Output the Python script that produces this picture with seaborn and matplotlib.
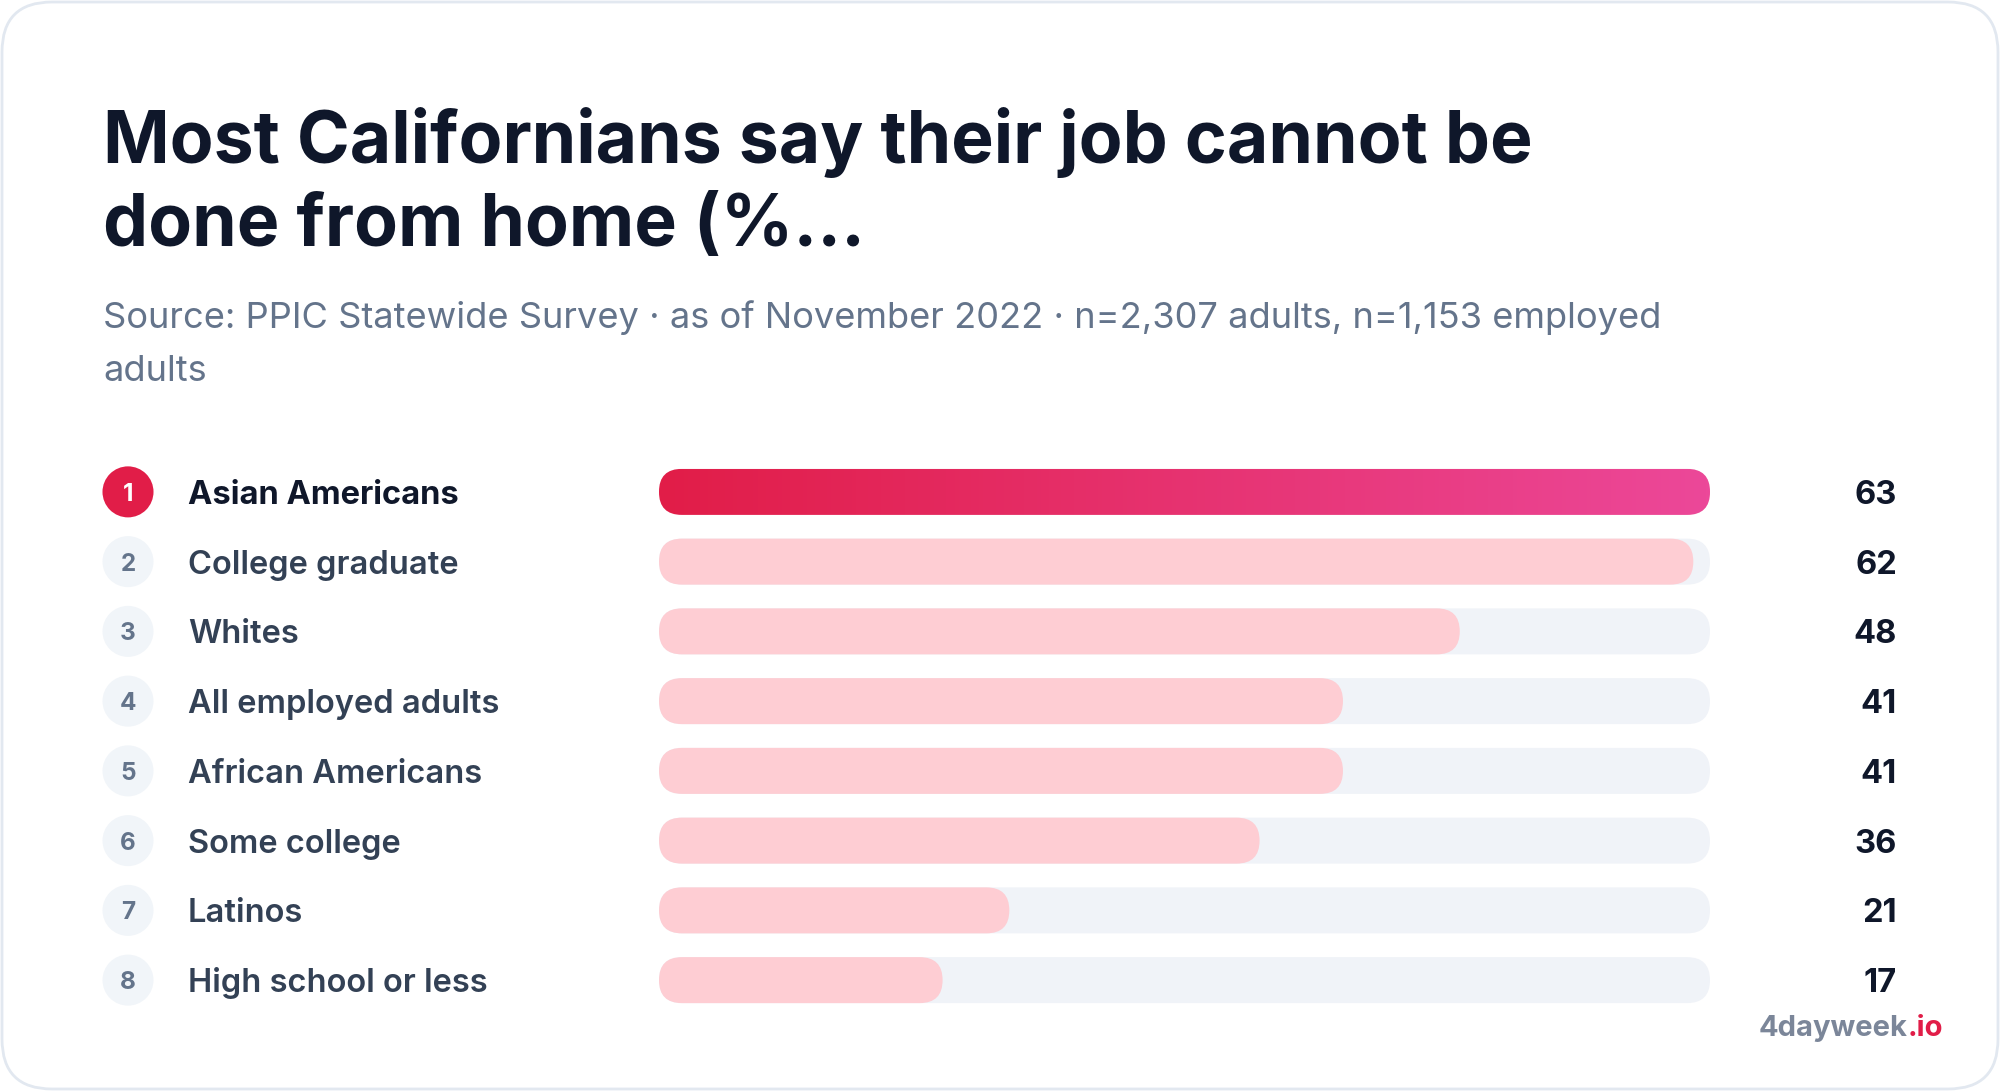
"""Ranked bar chart: share of Californians whose job cannot be done from home."""
import numpy as np
import seaborn as sns
from matplotlib import pyplot as plt
from matplotlib import transforms
from matplotlib.colors import LinearSegmentedColormap, to_rgb
from matplotlib.patches import FancyBboxPatch

# Data
categories = [
    "Asian Americans",
    "College graduate",
    "Whites",
    "All employed adults",
    "African Americans",
    "Some college",
    "Latinos",
    "High school or less",
]
values = [63, 62, 48, 41, 41, 36, 21, 17]
ranks = list(range(1, len(categories) + 1))

TITLE = "Most Californians say their job cannot be\ndone from home (%\u2026"
SUBTITLE = ("Source: PPIC Statewide Survey \u00b7 as of November 2022 \u00b7 "
            "n=2,307 adults, n=1,153 employed\nadults")

# Colours
INK = "#0f172a"
LABEL = "#334155"
MUTED = "#64748b"
TRACK = "#f0f3f8"
BAR = "#fecdd3"
ACCENT = "#e11d48"
ACCENT_END = "#ec4899"
BORDER = "#e2e8f0"

W, H, DPI = 2000, 1091, 100

sns.set_theme(style="white")
plt.rcParams["font.family"] = ["Inter", "DejaVu Sans"]

fig = plt.figure(figsize=(W / DPI, H / DPI), dpi=DPI)
fig.patch.set_facecolor("white")

# Background axes in pixel units (origin top-left)
bg = fig.add_axes([0, 0, 1, 1], zorder=-1)
bg.set_xlim(0, W)
bg.set_ylim(H, 0)
bg.axis("off")

card = FancyBboxPatch((2, 2), W - 4, H - 4,
                      boxstyle="round,pad=0,rounding_size=50",
                      fc="white", ec=BORDER, lw=2)
bg.add_patch(card)

# soft pink glow in the top-left corner
yy, xx = np.mgrid[0:H, 0:W]
dist = np.sqrt((xx / 900.0) ** 2 + (yy / 520.0) ** 2)
glow = np.zeros((H, W, 4))
glow[..., :3] = to_rgb("#fde4e6")
glow[..., 3] = np.clip(1 - dist, 0, 1) ** 1.4 * 0.75
im_bg = bg.imshow(glow, extent=(0, W, H, 0), aspect="auto", zorder=0.5)
im_bg.set_clip_path(card)

# Title and subtitle
for line, base in zip(TITLE.split("\n"), (163, 246)):
    bg.text(103, base, line, fontsize=51.5, fontweight="bold", color=INK,
            va="baseline", ha="left")
for line, base in zip(SUBTITLE.split("\n"), (328, 381)):
    bg.text(103, base, line, fontsize=26.1, color=MUTED,
            va="baseline", ha="left")

# Bar axes
ax = fig.add_axes([659 / W, 76 / H, 1051 / W, 558 / H])
bar_h = 46 / 69.75
vmax = max(values)
sns.barplot(x=[vmax] * len(values), y=categories, color=TRACK,
            width=bar_h, orient="h", ax=ax, saturation=1)
sns.barplot(x=values, y=categories, color=BAR,
            width=bar_h, orient="h", ax=ax, saturation=1)
ax.set_xlim(0, vmax)
ax.set_ylim(len(values) - 0.5, -0.5)
ax.axis("off")

# Turn the seaborn bars into rounded pills
bbox = ax.get_window_extent()
px_x = bbox.width / vmax
px_y = bbox.height / len(values)
aspect = px_x / px_y
pills = []
for patch in list(ax.patches):
    x, y = patch.get_x(), patch.get_y()
    w, h = patch.get_width(), patch.get_height()
    fc = patch.get_facecolor()
    patch.remove()
    r = h / aspect / 2
    pill = FancyBboxPatch((x, y), w, h,
                          boxstyle=f"round,pad=0,rounding_size={r}",
                          mutation_aspect=aspect, fc=fc, ec="none")
    ax.add_patch(pill)
    pills.append(pill)

# Gradient on the top-ranked bar
top = pills[len(values)]
cmap = LinearSegmentedColormap.from_list("accent", [ACCENT, ACCENT_END])
grad = ax.imshow(np.linspace(0, 1, 256).reshape(1, -1), cmap=cmap,
                 extent=(0, values[0], top.get_y() + top.get_height(),
                         top.get_y()),
                 aspect="auto", zorder=3)
grad.set_clip_path(top)
ax.set_xlim(0, vmax)
ax.set_ylim(len(values) - 0.5, -0.5)

# Badges, labels, values placed on the bar rows
row = transforms.blended_transform_factory(bg.transData, ax.transData)
lift = transforms.ScaledTranslation(0, -12 / DPI, fig.dpi_scale_trans)
badge_cols = [ACCENT] + ["#f1f5f9"] * (len(ranks) - 1)
ax.scatter([128] * len(ranks), range(len(ranks)), s=1350, c=badge_cols,
           transform=row, clip_on=False, zorder=4, linewidths=0)
for i, (rank, cat, val) in enumerate(zip(ranks, categories, values)):
    first = i == 0
    ax.text(128, i, str(rank), transform=row + transforms.ScaledTranslation(
                0, -9 / DPI, fig.dpi_scale_trans),
            ha="center", va="baseline", fontsize=17.5, fontweight="bold",
            color="white" if first else MUTED, zorder=5)
    ax.text(188, i, cat, transform=row + lift, ha="left", va="baseline",
            fontsize=23.5, fontweight="bold" if first else "semibold",
            color=INK if first else LABEL)
    ax.text(1897, i, f"{val}", transform=row + lift, ha="right",
            va="baseline", fontsize=23.5, fontweight="bold", color=INK)

# Watermark
renderer = fig.canvas.get_renderer()
io = bg.text(1943, 1036, ".io", fontsize=21, fontweight="bold",
             color=ACCENT, ha="right", va="baseline")
left = bg.transData.inverted().transform(
    (io.get_window_extent(renderer).x0, 0))[0]
bg.text(left, 1036, "4dayweek", fontsize=21, fontweight="bold",
        color="#7b8699", ha="right", va="baseline")

fig.savefig("out.png", dpi=DPI)
